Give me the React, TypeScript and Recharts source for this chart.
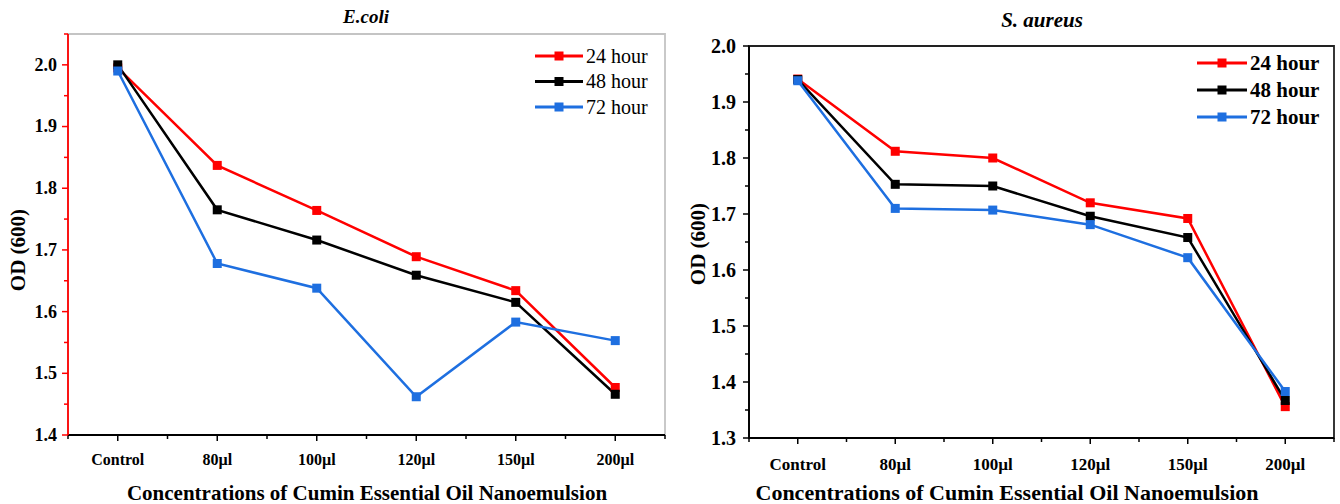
import React from "react";
import { LineChart, Line, XAxis, YAxis, ReferenceArea, Legend } from "recharts";

// x categories + series
const categories = ["Control", "80µl", "100µl", "120µl", "150µl", "200µl"];
const seriesNames = ["24 hour", "48 hour", "72 hour"];
const seriesColors = ["#ff0000", "#000000", "#1e6fe0"];

// E.coli OD readings
const ecoli24 = [1.995, 1.837, 1.764, 1.689, 1.634, 1.477];
const ecoli48 = [2.0, 1.765, 1.716, 1.659, 1.615, 1.466];
const ecoli72 = [1.99, 1.678, 1.638, 1.462, 1.583, 1.553];

// S. aureus OD readings
const aureus24 = [1.941, 1.812, 1.8, 1.72, 1.692, 1.356];
const aureus48 = [1.94, 1.753, 1.75, 1.696, 1.658, 1.367];
const aureus72 = [1.938, 1.71, 1.707, 1.681, 1.622, 1.383];

// tick positions (majors + minors)
const xTicks = [-0.5, 0, 0.5, 1, 1.5, 2, 2.5, 3, 3.5, 4, 4.5, 5, 5.5];
const ecoliTicks = [1.4, 1.45, 1.5, 1.55, 1.6, 1.65, 1.7, 1.75, 1.8, 1.85, 1.9, 1.95, 2.0, 2.05];
const aureusTicks = [1.3, 1.35, 1.4, 1.45, 1.5, 1.55, 1.6, 1.65, 1.7, 1.75, 1.8, 1.85, 1.9, 1.95, 2.0];

const FONT = "'Liberation Serif', 'Times New Roman', serif";

const build = (a: number[], b: number[], c: number[]) =>
  categories.map((name, i) => ({ idx: i, name, h24: a[i], h48: b[i], h72: c[i] }));

const ecoliData = build(ecoli24, ecoli48, ecoli72);
const aureusData = build(aureus24, aureus48, aureus72);
const keys = ["h24", "h48", "h72"];

const makeXTick = (fontSize: number, gap: number) => (props: any) => {
  const { x, y, payload } = props;
  const v = payload.value;
  const major = Number.isInteger(v);
  return (
    <g>
      <line x1={x} x2={x} y1={y} y2={y + (major ? 6 : 4)} stroke="#000" strokeWidth={1.5} />
      {major && (
        <text x={x} y={y + gap} textAnchor="middle" fontFamily={FONT} fontWeight="bold" fontSize={fontSize} fill="#000">
          {categories[v]}
        </text>
      )}
    </g>
  );
};

const makeYTick = (fontSize: number, color: string, gap: number) => (props: any) => {
  const { x, y, payload } = props;
  const v = payload.value;
  const major = Math.abs(v * 10 - Math.round(v * 10)) < 1e-6;
  return (
    <g>
      <line x1={x} x2={x - (major ? 6 : 4)} y1={y} y2={y} stroke={color} strokeWidth={1.5} />
      {major && (
        <text x={x - gap} y={y + fontSize * 0.33} textAnchor="end" fontFamily={FONT} fontWeight="bold" fontSize={fontSize} fill="#000">
          {v.toFixed(1)}
        </text>
      )}
    </g>
  );
};

const makeLegend = (bold: boolean, fontSize: number, rowGap: number, lineLen: number) => () => (
  <svg width={140} height={rowGap * 3 + 10} style={{ overflow: "visible" }}>
    {seriesNames.map((s, i) => {
      const cy = 10 + i * rowGap;
      return (
        <g key={s}>
          <line x1={0} x2={lineLen} y1={cy} y2={cy} stroke={seriesColors[i]} strokeWidth={3} />
          <rect x={lineLen / 2 - 4.5} y={cy - 4.5} width={9} height={9} fill={seriesColors[i]} />
          <text x={lineLen + 3} y={cy + fontSize * 0.33} fontFamily={FONT} fontWeight={bold ? "bold" : "normal"} fontSize={fontSize} fill="#000">
            {s}
          </text>
        </g>
      );
    })}
  </svg>
);

const squareDot = (color: string) => (p: any) => (
  <rect key={`${p.dataKey}-${p.index}`} x={p.cx - 4.5} y={p.cy - 4.5} width={9} height={9} fill={color} />
);

const AXW = 60;
const AXH = 40;

const Panel = ({ data, domain, yTicks, plot, yColor, frameColor, yFont, yGap, xFont, xGap, legend, legendPos }: any) => (
  <LineChart
    width={670}
    height={504}
    data={data}
    margin={{ top: plot.top, right: plot.right, bottom: plot.bottom - AXH, left: plot.left - AXW }}
  >
    <ReferenceArea
      x1={-0.5}
      x2={5.5}
      y1={domain[0]}
      y2={domain[1]}
      fill="none"
      stroke={frameColor}
      strokeWidth={1.8}
      fillOpacity={0}
      strokeOpacity={1}
    />
    <XAxis
      dataKey="idx"
      type="number"
      domain={[-0.5, 5.5]}
      ticks={xTicks}
      interval={0}
      height={AXH}
      tickSize={0}
      tickMargin={0}
      tickLine={false}
      axisLine={{ stroke: "#000", strokeWidth: 1.8 }}
      tick={makeXTick(xFont, xGap)}
    />
    <YAxis
      type="number"
      domain={domain}
      ticks={yTicks}
      interval={0}
      width={AXW}
      tickSize={0}
      tickMargin={0}
      tickLine={false}
      allowDataOverflow
      axisLine={{ stroke: yColor, strokeWidth: 1.8 }}
      tick={makeYTick(yFont, yColor, yGap)}
    />
    <Legend
      layout="vertical"
      align="center"
      verticalAlign="middle"
      content={legend}
      wrapperStyle={{ position: "absolute", left: legendPos[0], top: legendPos[1], width: 140 }}
    />
    {keys.map((k, i) => (
      <Line
        key={k}
        dataKey={k}
        name={seriesNames[i]}
        stroke={seriesColors[i]}
        strokeWidth={2.5}
        dot={squareDot(seriesColors[i])}
        activeDot={false}
        isAnimationActive={false}
      />
    ))}
  </LineChart>
);

const abs = (style: any): any => ({ position: "absolute", fontFamily: FONT, color: "#000", whiteSpace: "nowrap", lineHeight: 1, ...style });

export default function App() {
  return (
    <div style={{ position: "absolute", left: 0, top: 0, width: 1340, height: 504, background: "#fff", overflow: "hidden" }}>
      <div style={{ position: "absolute", left: 0, top: 0 }}>
        <Panel
          data={ecoliData}
          domain={[1.4, 2.05]}
          yTicks={ecoliTicks}
          plot={{ top: 34, right: 5, bottom: 69, left: 68 }}
          yColor="#ff0000"
          frameColor="#c4c4c4"
          yFont={18}
          yGap={11}
          xFont={16}
          xGap={30}
          legend={makeLegend(false, 20, 25.5, 48)}
          legendPos={[535, 46]}
        />
      </div>
      <div style={{ position: "absolute", left: 670, top: 0 }}>
        <Panel
          data={aureusData}
          domain={[1.3, 2.0]}
          yTicks={aureusTicks}
          plot={{ top: 46, right: 6, bottom: 66, left: 79 }}
          yColor="#000"
          frameColor="#222"
          yFont={20}
          yGap={13}
          xFont={17}
          xGap={32}
          legend={makeLegend(true, 21, 27, 50)}
          legendPos={[527, 53]}
        />
      </div>

      <div style={abs({ left: 366, top: 16, transform: "translate(-50%, -50%)", fontSize: 19, fontWeight: "bold", fontStyle: "italic" })}>E.coli</div>
      <div style={abs({ left: 1042, top: 20, transform: "translate(-50%, -50%)", fontSize: 21, fontWeight: "bold", fontStyle: "italic" })}>S. aureus</div>

      <div style={abs({ left: 367, top: 493, transform: "translate(-50%, -50%)", fontSize: 21, fontWeight: "bold" })}>
        Concentrations of Cumin Essential Oil Nanoemulsion
      </div>
      <div style={abs({ left: 1007, top: 493, transform: "translate(-50%, -50%)", fontSize: 22, fontWeight: "bold" })}>
        Concentrations of Cumin Essential Oil Nanoemulsion
      </div>

      <div style={abs({ left: 18, top: 250, transform: "translate(-50%, -50%) rotate(-90deg)", fontSize: 21, fontWeight: "bold" })}>OD (600)</div>
      <div style={abs({ left: 698, top: 244, transform: "translate(-50%, -50%) rotate(-90deg)", fontSize: 21, fontWeight: "bold" })}>OD (600)</div>
    </div>
  );
}
